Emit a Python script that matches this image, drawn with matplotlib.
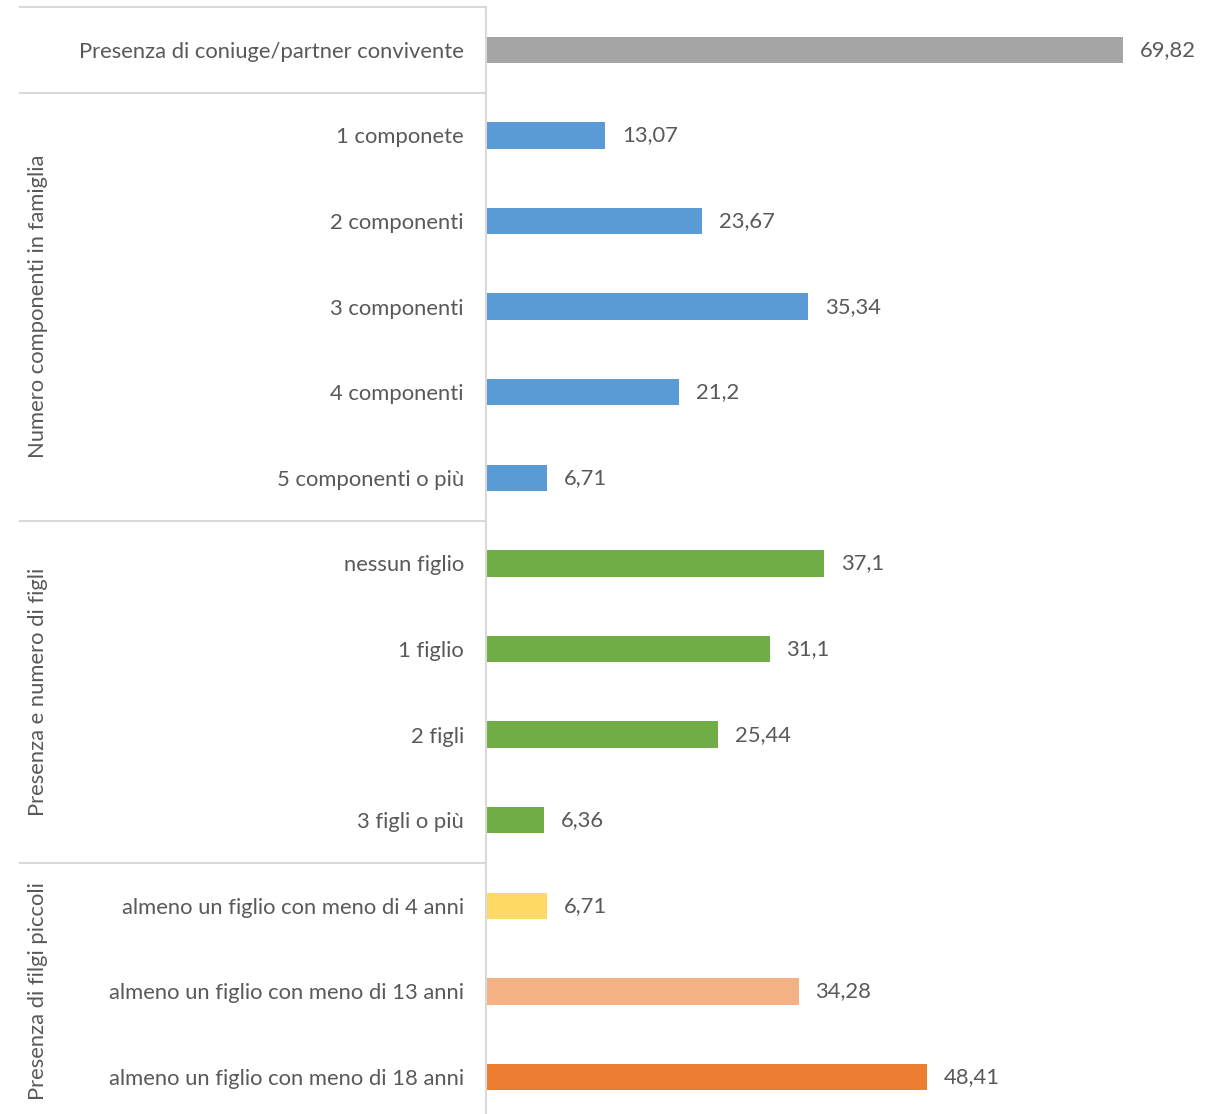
import matplotlib.pyplot as plt

# --- Data --- #
categories = [
    "Presenza di coniuge/partner convivente",
    "1 componete",
    "2 componenti",
    "3 componenti",
    "4 componenti",
    "5 componenti o più",
    "nessun figlio",
    "1 figlio",
    "2 figli",
    "3 figli o più",
    "almeno un figlio con meno di 4 anni",
    "almeno un figlio con meno di 13 anni",
    "almeno un figlio con meno di 18 anni",
]
values = [69.82, 13.07, 23.67, 35.34, 21.2, 6.71, 37.1, 31.1, 25.44, 6.36, 6.71, 34.28, 48.41]
colors = ["#A5A5A5"] + ["#5B9BD5"] * 5 + ["#70AD47"] * 4 + ["#FFD966", "#F4B183", "#ED7D31"]

# groups: (label, first row, last row)
groups = [
    ("Numero componenti in famiglia", 1, 5),
    ("Presenza e numero di figli", 6, 9),
    ("Presenza di filgi piccoli", 10, 12),
]
separators = [-0.5, 0.5, 5.5, 9.5]

TEXT = "#595959"
LINE = "#D9D9D9"
FONT = "Lato"
FS = 15.8

# --- Plot --- #
W, H = 1219, 1114
fig = plt.figure(figsize=(W / 100, H / 100), dpi=100)
ax_left = 486 / W
ax_top = 1 - 7 / H
ax_bottom = 0.0
ax = fig.add_axes([ax_left, ax_bottom, 1 - ax_left, ax_top - ax_bottom])

ypos = list(range(len(categories)))
ax.barh(ypos, values, height=0.31, color=colors, zorder=2)

scale = 9.12  # px per unit
ax.set_xlim(0, (W - 486) / scale)
row_px = 85.6
ax.set_ylim(12 + (1114 - 1077) / row_px, -0.5)

for y, v in zip(ypos, values):
    ax.annotate(f"{v:g}".replace(".", ","), (v, y), xytext=(12, 0),
                textcoords="offset points", va="center", ha="left",
                fontsize=FS, color=TEXT, family=FONT)

ax.set_yticks(ypos)
ax.set_yticklabels(categories, fontsize=FS, color=TEXT, family=FONT)
ax.tick_params(axis="y", length=0, pad=16)
ax.set_xticks([])

for s in ["top", "right", "bottom"]:
    ax.spines[s].set_visible(False)
ax.spines["left"].set_color(LINE)
ax.spines["left"].set_linewidth(1.5)

# group separators across the label area
trans = ax.get_yaxis_transform()
x0 = (20 - 486) / (W - 486)
for y in separators:
    ax.plot([x0, 0], [y, y], transform=trans, color=LINE, lw=1.5, clip_on=False)

xg = (38 - 486) / (W - 486)
for label, a, b in groups:
    yc = (a + b) / 2
    if b == 12:
        yc = (a - 0.5 + 12.5) / 2
    ax.text(xg, yc, label, transform=trans, rotation=90, ha="center", va="center",
            fontsize=FS, color=TEXT, family=FONT)

fig.savefig("out.png", dpi=100)
